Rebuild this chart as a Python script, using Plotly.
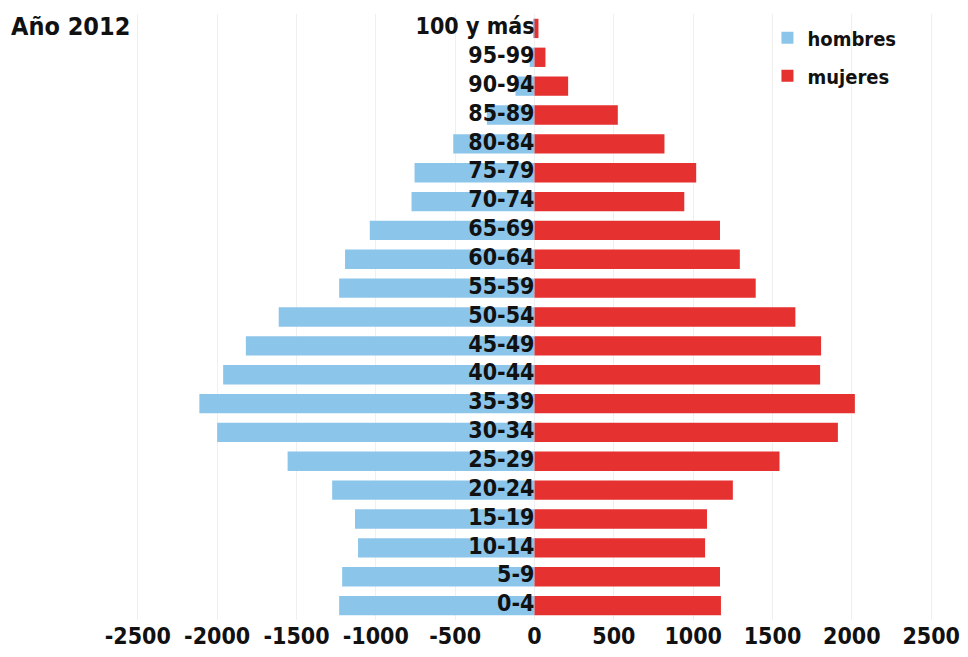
import plotly.graph_objects as go

categories = ["0-4", "5-9", "10-14", "15-19", "20-24", "25-29", "30-34", "35-39",
              "40-44", "45-49", "50-54", "55-59", "60-64", "65-69", "70-74",
              "75-79", "80-84", "85-89", "90-94", "95-99", "100 y más"]
hombres = [1231, 1212, 1112, 1131, 1275, 1556, 2000, 2112, 1962, 1819, 1612,
           1231, 1194, 1038, 775, 756, 512, 300, 120, 30, 5]
mujeres = [1175, 1169, 1075, 1087, 1250, 1544, 1912, 2019, 1800, 1806, 1644,
           1394, 1294, 1169, 944, 1019, 819, 525, 212, 69, 25]
tick_vals = [-2500, -2000, -1500, -1000, -500, 0, 500, 1000, 1500, 2000, 2500]
tick_text = ["-2500", "-2000", "-1500", "-1000", "-500", "0", "500", "1000", "1500", "2000", "2500"]

FONT = "DejaVu Sans Condensed, Liberation Sans Narrow, Arial Narrow, sans-serif"
BLUE = "#8cc5ea"
RED = "#e5312f"

fig = go.Figure()
fig.add_trace(go.Bar(y=categories, x=[-v for v in hombres], orientation="h",
                     name="hombres", legendgroup="h",
                     marker=dict(color=BLUE, line=dict(width=0)),
                     customdata=hombres, hovertemplate="%{y}: %{customdata}<extra>hombres</extra>"))
fig.add_trace(go.Bar(y=categories, x=mujeres, orientation="h",
                     name="mujeres", legendgroup="m",
                     marker=dict(color=RED, line=dict(width=0)),
                     hovertemplate="%{y}: %{x}<extra>mujeres</extra>"))
fig.add_trace(go.Scatter(y=categories, x=[0] * len(categories), mode="text",
                         text=categories, textposition="middle left",
                         textfont=dict(family=FONT, size=23, color="#111", weight="bold"),
                         showlegend=False, hoverinfo="skip"))

fig.update_layout(
    width=968, height=657,
    margin=dict(l=114, r=8, t=14, b=36),
    paper_bgcolor="white", plot_bgcolor="white",
    barmode="overlay", bargap=0.33,
    font=dict(family=FONT, color="#111"),
    showlegend=True,
    legend=dict(x=0.777, y=0.993, xanchor="left", yanchor="top",
                font=dict(family=FONT, size=20, color="#111", weight="bold"),
                bgcolor="rgba(0,0,0,0)", itemsizing="constant", tracegroupgap=9),
    xaxis=dict(range=[-2650, 2650], tickvals=tick_vals, ticktext=tick_text,
               showgrid=True, gridcolor="#f0f0f0", gridwidth=1,
               zeroline=False, showline=False, ticks="",
               tickfont=dict(family=FONT, size=23, color="#111", weight="bold")),
    yaxis=dict(categoryorder="array", categoryarray=categories, range=[-0.5, 20.5],
               showticklabels=False, showgrid=False, zeroline=False, showline=False, ticks=""),
    annotations=[dict(text="Año 2012", xref="paper", yref="paper", x=-0.1245, y=0.979,
                      xanchor="left", yanchor="middle", showarrow=False,
                      font=dict(family=FONT, size=25, color="#111", weight="bold"))],
)

fig.write_html("out.html", config={"displayModeBar": False},
               post_script="document.body.style.margin='0';")
